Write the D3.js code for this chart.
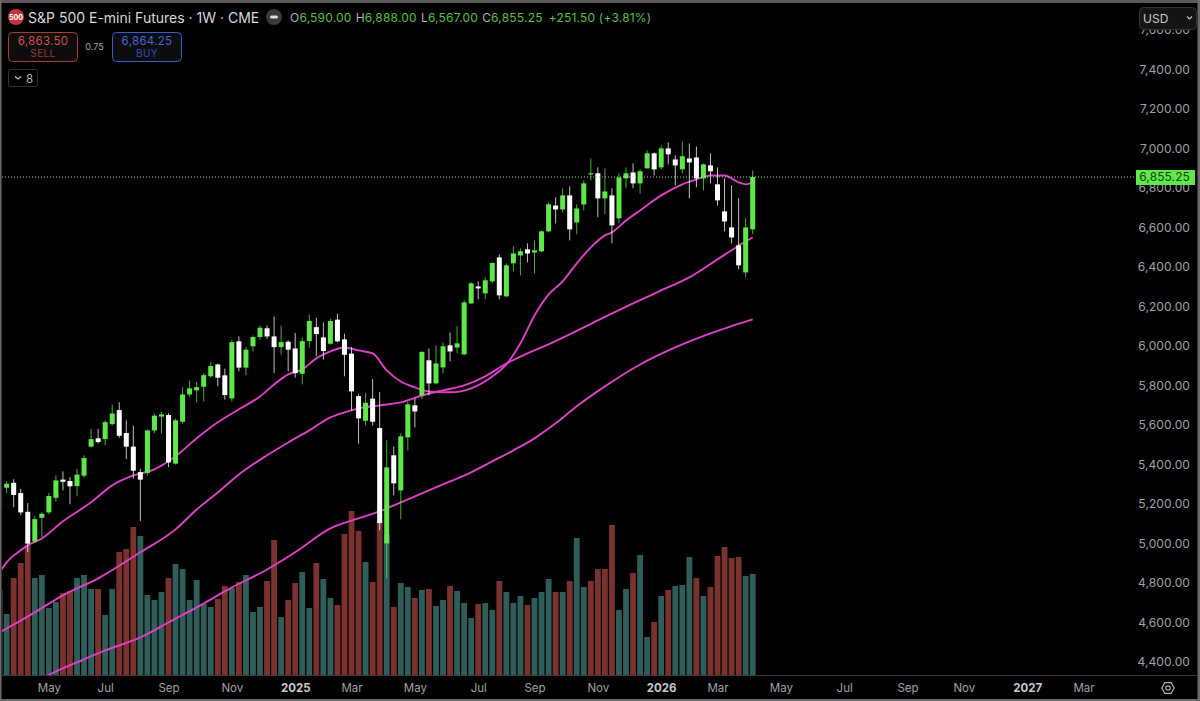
<!DOCTYPE html>
<html>
<head>
<meta charset="utf-8">
<script src="https://cdn.jsdelivr.net/npm/d3@7/dist/d3.min.js"></script>
<style>
  html, body { margin: 0; padding: 0; background: #000; overflow: hidden; }
  svg { display: block; }
  text { font-family: Inter, "Noto Sans", sans-serif; }
</style>
</head>
<body>
<svg id="chart" width="1200" height="701"></svg>
<script>
// Weekly OHLC, oldest first. The last entry is the week in progress.
const opens = [5179,5282,5307,5255,5160,5009,5130,5157,5231,5323,5316,5290,5343,5490,5532,5528,5604,5675,5559,5490,5361,5356,5572,5642,5650,5404,5616,5754,5775,5793,5846,5906,5851,5734,6023,5890,5998,6045,6089,6048,5994,6021,5987,5859,6024,6095,6043,6011,6133,6033,5961,5746,5621,5733,5584,5000,5446,5268,5537,5699,5749,5927,5810,5891,6003,5992,5957,6215,6301,6266,6327,6448,6251,6418,6458,6489,6473,6479,6580,6711,6691,6762,6625,6716,6869,6874,6747,6762,6646,6848,6878,6823,6899,6975,6904,7000,6944,6894,6949,6954,6848,6914,6818,6681,6600,6509,6372,6590];
const highs = [5302,5315,5325,5277,5204,5137,5158,5255,5344,5365,5336,5378,5446,5581,5579,5623,5702,5715,5623,5596,5378,5576,5657,5665,5660,5631,5791,5824,5817,5862,5918,5910,5885,6031,6048,5994,6053,6104,6104,6149,6102,6028,6065,6042,6158,6143,6119,6138,6163,6062,5994,5758,5761,5832,5766,5522,5491,5557,5716,5734,5972,5987,6003,6018,6068,6099,6231,6322,6327,6347,6423,6463,6418,6504,6494,6519,6534,6585,6727,6752,6798,6808,6716,6838,6949,6904,6899,6798,6873,6904,6924,6894,6990,6980,7015,7030,6965,7035,7025,7010,6924,6975,6904,6848,6813,6747,6646,6888];
const lows = [5176,5255,5184,5143,4956,5002,5032,5147,5211,5268,5198,5238,5333,5485,5505,5496,5597,5535,5427,5328,5113,5344,5559,5555,5386,5400,5606,5741,5715,5719,5839,5795,5728,5719,5872,5851,5972,6031,6036,5862,5957,5871,5839,5805,5991,5947,5930,6006,6019,5846,5673,5505,5596,5597,5066,4823,5243,5122,5471,5587,5729,5749,5805,5861,5922,5962,5952,6213,6236,6236,6317,6236,6246,6377,6357,6423,6367,6474,6575,6620,6676,6534,6565,6686,6838,6651,6666,6519,6620,6798,6798,6772,6899,6863,6894,6919,6813,6873,6747,6803,6787,6823,6711,6580,6519,6387,6347,6567];
const closes = [5289,5302,5245,5157,4999,5123,5150,5240,5319,5312,5289,5348,5432,5528,5513,5614,5658,5545,5490,5368,5323,5572,5647,5653,5410,5623,5754,5785,5791,5852,5898,5839,5751,6019,5890,5981,6045,6092,6048,5994,6019,5981,5862,6024,6126,6060,5974,6126,6023,5955,5770,5633,5712,5616,5103,5385,5304,5542,5704,5668,5970,5810,5911,5998,5972,6013,6220,6317,6291,6332,6420,6256,6408,6468,6479,6468,6484,6580,6717,6691,6762,6590,6696,6823,6874,6747,6782,6610,6853,6874,6823,6884,6975,6894,7000,6970,6914,6960,6929,6848,6919,6884,6737,6630,6549,6408,6600,6855.25];

// Traded volume per week, thousands of contracts, and whether the platform flags it as a down week.
const volumes = [850,610,970,1120,1300,970,1000,670,730,820,840,970,1000,860,860,600,860,1230,1260,1480,1390,800,750,830,970,1110,1060,750,950,710,680,760,890,870,930,1000,630,680,940,1350,580,750,920,1030,670,1120,960,770,700,1410,1640,1440,1130,930,1550,1400,680,920,880,770,850,860,690,750,890,840,720,570,710,720,650,940,830,720,790,700,770,830,960,830,830,940,1370,880,940,1060,1060,1500,650,860,1020,1200,380,530,790,850,890,900,1180,970,790,880,1190,1280,1170,1180,990,1010];
const volumeDown = [0,0,1,1,1,0,0,0,0,1,1,0,0,0,1,0,0,1,1,1,0,0,0,0,1,0,0,0,0,0,0,1,1,0,1,0,0,0,1,1,0,1,1,0,0,1,0,0,1,1,1,1,0,1,1,0,1,0,0,1,0,1,0,0,1,0,0,0,1,0,0,1,0,0,0,1,0,0,0,1,0,1,0,0,1,1,1,1,0,0,1,0,0,1,0,1,0,0,0,1,0,1,1,1,1,1,0,0];

// Moving averages sampled at selected weeks: fast, middle and slow.
const fastWeeks = [0,1,3,4,6,9,13,16,19,22,25,28,31,34,37,39,41,43,45,47,49,51,53,55,57,59,61,64,67,70,72,74,76,78,80,82,84,86,87,89,91,94,97,99,101,103,105,106,107];
const fastValues = [4853,4904,4965,4990,5025,5112,5208,5294,5344,5375,5441,5532,5613,5679,5744,5805,5856,5881,5937,5972,5992,5977,5962,5876,5820,5790,5770,5765,5785,5845,5906,6013,6154,6261,6327,6418,6499,6560,6575,6635,6686,6762,6818,6843,6863,6863,6828,6818,6828];
const midWeeks = [0,5,9,14,20,25,28,31,34,38,41,44,47,49,51,54,57,60,63,66,69,72,75,78,81,85,90,94,98,102,104,106,107];
const midValues = [4549,4651,4737,4823,4955,5071,5172,5258,5349,5446,5511,5572,5638,5663,5684,5699,5714,5749,5775,5800,5846,5911,5962,6008,6058,6129,6215,6281,6347,6438,6484,6529,6549];
const slowWeeks = [6,8,11,15,20,24,28,33,38,42,47,51,54,57,60,64,67,70,73,76,79,82,86,91,96,101,107];
const slowValues = [4316,4352,4398,4458,4524,4600,4676,4777,4868,4955,5076,5127,5162,5208,5253,5314,5360,5415,5471,5532,5608,5694,5795,5906,5992,6063,6134];

// Price axis and time axis labels.
const priceTicks = [4400,4600,4800,5000,5200,5400,5600,5800,6000,6200,6400,6600,6800,7000,7200,7400,7600];
const timeTickWeeks = [7,15,24,33,42,50,59,68,76,85,94,102,111,120,129,137,146,154];
const timeTickLabels = ["May","Jul","Sep","Nov","2025","Mar","May","Jul","Sep","Nov","2026","Mar","May","Jul","Sep","Nov","2027","Mar"];

const lastPrice = closes[closes.length - 1];

const COLORS = {
  up: "#5fe84a", down: "#ffffff", ma: "#e040c8",
  volUp: "#2f5e5a", volDown: "#7b322e",
  axisText: "#a3a3a3", green: "#58c043", grid: "#3a3a3a"
};

const svg = d3.select("#chart");
svg.append("rect").attr("width", 1200).attr("height", 701).attr("fill", "#000");

const x = d3.scaleLinear().domain([0, 107]).range([-0.4, 752.7]);
const y = d3.scaleLinear().domain([4400, 7400]).range([661.9, 69.4]);
const yVol = d3.scaleLinear().domain([0, 1500]).range([675, 525]);

svg.append("clipPath").attr("id", "pane")
  .append("rect").attr("x", 2).attr("y", 3).attr("width", 1130).attr("height", 672);

const pane = svg.append("g").attr("clip-path", "url(#pane)");

// Volume columns sit at the back of the pane.
const barW = 5.8;
pane.append("g").selectAll("rect").data(volumes).join("rect")
  .attr("x", (d, i) => x(i) - barW / 2)
  .attr("y", d => yVol(d))
  .attr("width", barW)
  .attr("height", d => yVol(0) - yVol(d))
  .attr("fill", (d, i) => volumeDown[i] ? COLORS.volDown : COLORS.volUp);

// Moving averages.
const maLine = d3.line().x(d => x(d[0])).y(d => y(d[1])).curve(d3.curveMonotoneX);
[[fastWeeks, fastValues], [midWeeks, midValues], [slowWeeks, slowValues]].forEach(([w, v]) => {
  pane.append("path")
    .attr("d", maLine(d3.zip(w, v)))
    .attr("fill", "none")
    .attr("stroke", COLORS.ma)
    .attr("stroke-width", 1.9);
});

// Candles: green for up weeks, white for down weeks.
const candles = pane.append("g").selectAll("g").data(closes).join("g")
  .attr("fill", (c, i) => c >= opens[i] ? COLORS.up : COLORS.down)
  .attr("stroke", (c, i) => c >= opens[i] ? COLORS.up : COLORS.down);
candles.append("line")
  .attr("x1", (c, i) => x(i)).attr("x2", (c, i) => x(i))
  .attr("y1", (c, i) => y(highs[i])).attr("y2", (c, i) => y(lows[i]))
  .attr("stroke-width", 1).attr("stroke-opacity", 0.75);
const bodyW = 5;
candles.append("rect")
  .attr("x", (c, i) => x(i) - bodyW / 2)
  .attr("y", (c, i) => y(Math.max(c, opens[i])))
  .attr("width", bodyW)
  .attr("height", (c, i) => Math.max(1.2, Math.abs(y(c) - y(opens[i]))))
  .attr("stroke", "none");

// Last price guide.
svg.append("line")
  .attr("x1", 2).attr("x2", 1136).attr("y1", y(lastPrice)).attr("y2", y(lastPrice))
  .attr("stroke", "#a9dba0").attr("stroke-width", 1).attr("stroke-dasharray", "1 2");

// Price axis, labels only.
const yAxis = svg.append("g")
  .attr("transform", "translate(1190,0)")
  .call(d3.axisLeft(y).tickValues(priceTicks).tickSize(0).tickPadding(0).tickFormat(d3.format(",.2f")));
yAxis.select(".domain").remove();
yAxis.selectAll("text")
  .attr("fill", COLORS.axisText).attr("font-size", 12).style("letter-spacing", "0.1px")
  .attr("font-family", "Inter, sans-serif");

// Last price tag.
svg.append("rect").attr("x", 1136).attr("y", 170).attr("width", 59).attr("height", 15).attr("fill", COLORS.up);
svg.append("text").attr("x", 1190).attr("y", y(lastPrice) + 4.3).attr("text-anchor", "end")
  .attr("font-size", 12).attr("fill", "#14420c").style("letter-spacing", "0.1px")
  .text(d3.format(",.2f")(lastPrice));

// Time axis.
svg.append("line").attr("x1", 2).attr("x2", 1197).attr("y1", 675.5).attr("y2", 675.5).attr("stroke", COLORS.grid);
const xAxis = svg.append("g")
  .attr("transform", "translate(0,692)")
  .call(d3.axisBottom(x).tickValues(timeTickWeeks).tickSize(0).tickPadding(0)
    .tickFormat((d, i) => timeTickLabels[i]));
xAxis.select(".domain").remove();
xAxis.selectAll("text")
  .attr("y", 0).attr("dy", 0)
  .attr("fill", (d, i) => /^\d/.test(timeTickLabels[i]) ? "#c8c8c8" : COLORS.axisText)
  .attr("font-weight", (d, i) => /^\d/.test(timeTickLabels[i]) ? 700 : 400)
  .attr("font-size", 11.5)
  .attr("font-family", "Inter, sans-serif");

// Settings gear at the axis corner.
const gear = svg.append("g").attr("transform", "translate(1168,688)").attr("fill", "none").attr("stroke", "#b5b5b5").attr("stroke-width", 1.2);
gear.append("path").attr("d", d3.range(6).map(k => {
  const a = k * Math.PI / 3;
  return (k ? "L" : "M") + (6.2 * Math.cos(a)).toFixed(2) + "," + (6.2 * Math.sin(a)).toFixed(2);
}).join("") + "Z");
gear.append("circle").attr("r", 2.2);

// Currency selector.
svg.append("rect").attr("x", 1139.5).attr("y", 7.5).attr("width", 57).attr("height", 22).attr("rx", 4)
  .attr("fill", "#151515").attr("stroke", "#333");
svg.append("text").attr("x", 1143).attr("y", 23).attr("font-size", 12).attr("fill", "#c8c8c8").text("USD");
svg.append("path").attr("d", "M1187,16.5l2.5,2.5l2.5,-2.5").attr("fill", "none").attr("stroke", "#c8c8c8").attr("stroke-width", 1.2);

// Symbol header.
svg.append("circle").attr("cx", 16).attr("cy", 17).attr("r", 8).attr("fill", "#c8333a");
svg.append("text").attr("x", 16).attr("y", 19.5).attr("text-anchor", "middle").attr("font-size", 7).attr("font-weight", 700)
  .attr("fill", "#fff").text("500");
svg.append("text").attr("x", 28).attr("y", 22.5).attr("font-size", 14).attr("fill", "#d8d8d8")
  .text("S&P 500 E-mini Futures · 1W · CME");
svg.append("circle").attr("cx", 274).attr("cy", 17).attr("r", 8).attr("fill", "#3a3a3a");
svg.append("rect").attr("x", 270).attr("y", 15.5).attr("width", 8).attr("height", 3).attr("rx", 1.5).attr("fill", "#dcdcdc");

const ohlc = svg.append("text").attr("x", 290).attr("y", 22).attr("font-size", 12).style("letter-spacing", "0.2px");
const fmt = d3.format(",.2f");
const last = closes.length - 1;
const change = 251.5, changePct = 3.81;
[["O", opens[last]], ["H", highs[last]], ["L", lows[last]], ["C", closes[last]]].forEach(([k, v], i) => {
  ohlc.append("tspan").attr("fill", "#b0b0b0").attr("dx", i ? 4 : 0).text(k);
  ohlc.append("tspan").attr("fill", COLORS.green).text(fmt(v));
});
ohlc.append("tspan").attr("fill", COLORS.green).attr("dx", 6)
  .text("+" + fmt(change) + " (+" + changePct + "%)");

// Sell and buy quotes.
function quoteBox(left, price, label, border, textColor, labelColor) {
  svg.append("rect").attr("x", left + 0.5).attr("y", 32.5).attr("width", 69).attr("height", 29).attr("rx", 4)
    .attr("fill", "#0d0d0d").attr("stroke", border);
  svg.append("text").attr("x", left + 35).attr("y", 45).attr("text-anchor", "middle").attr("font-size", 11.5)
    .attr("fill", textColor).style("letter-spacing", "0.3px").text(price);
  svg.append("text").attr("x", left + 35).attr("y", 57).attr("text-anchor", "middle").attr("font-size", 10)
    .attr("fill", labelColor).style("letter-spacing", "0.4px").text(label);
}
quoteBox(8, "6,863.50", "SELL", "#a83c3c", "#d0504c", "#963c3a");
quoteBox(112, "6,864.25", "BUY", "#3a5ad0", "#4068dc", "#3350ac");
svg.append("text").attr("x", 94.5).attr("y", 50).attr("text-anchor", "middle").attr("font-size", 9)
  .attr("fill", "#a8a8a8").text("0.75");

// Collapsed indicators chip.
svg.append("rect").attr("x", 8.5).attr("y", 69.5).attr("width", 29).attr("height", 17).attr("rx", 2)
  .attr("fill", "none").attr("stroke", "#333");
svg.append("path").attr("d", "M15,76.5l3,2.5l3,-2.5").attr("fill", "none").attr("stroke", "#c8c8c8").attr("stroke-width", 1.1);
svg.append("text").attr("x", 26).attr("y", 82.5).attr("font-size", 11.5).attr("fill", "#b8b8b8").text("8");

// Window frame.
svg.append("rect").attr("x", 0).attr("y", 0).attr("width", 1200).attr("height", 3).attr("fill", "#5a5a5a");
svg.append("rect").attr("x", 0).attr("y", 0).attr("width", 1.5).attr("height", 701).attr("fill", "#6a6a6a");
svg.append("rect").attr("x", 0).attr("y", 699).attr("width", 1200).attr("height", 2).attr("fill", "#6a6a6a");
svg.append("rect").attr("x", 1197.5).attr("y", 0).attr("width", 2.5).attr("height", 701).attr("fill", "#6a6a6a");
</script>
</body>
</html>
